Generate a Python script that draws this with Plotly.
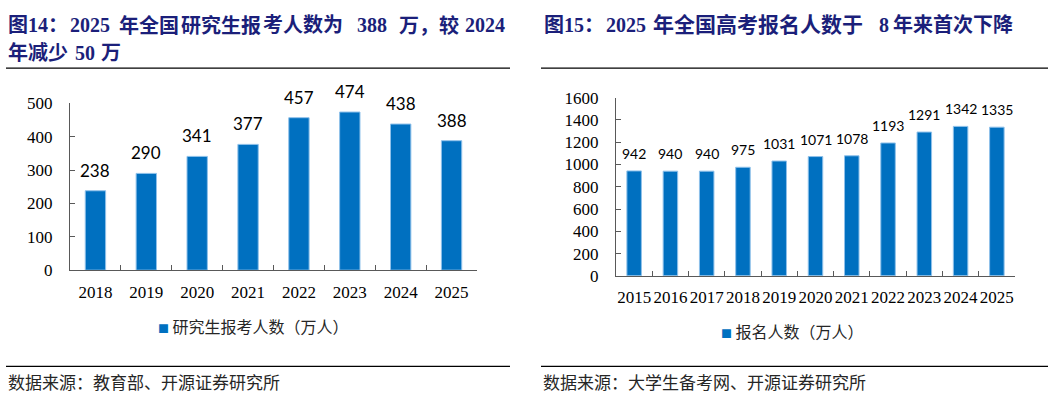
import plotly.graph_objects as go

W, H = 1057, 405

# ---- data ----
pg_years = ["2018", "2019", "2020", "2021", "2022", "2023", "2024", "2025"]
pg_values = [238, 290, 341, 377, 457, 474, 438, 388]

gk_years = ["2015", "2016", "2017", "2018", "2019", "2020", "2021", "2022", "2023", "2024", "2025"]
gk_values = [942, 940, 940, 975, 1031, 1071, 1078, 1193, 1291, 1342, 1335]

pg_ticks = [0, 100, 200, 300, 400, 500]
gk_ticks = [0, 200, 400, 600, 800, 1000, 1200, 1400, 1600]

pg_legend = "研究生报考人数（万人）"
gk_legend = "报名人数（万人）"
pg_source = "数据来源：教育部、开源证券研究所"
gk_source = "数据来源：大学生备考网、开源证券研究所"

BAR = "#0070C0"
EDGE = "#8FC1EA"
TITLE_C = "#1B1F7A"
AXIS_C = "#595959"
SERIF = "Liberation Serif, Noto Sans CJK SC"
CJK = "Noto Sans CJK SC"
LABEL_F = "Lato"


def px(x):
    return x / W


def py(y):
    return 1 - y / H


fig = go.Figure()
fig.add_trace(go.Bar(x=pg_years, y=pg_values, marker=dict(color=BAR, line=dict(color=EDGE, width=1)),
                     xaxis="x", yaxis="y", showlegend=False, hoverinfo="skip"))
fig.add_trace(go.Bar(x=gk_years, y=gk_values, marker=dict(color=BAR, line=dict(color=EDGE, width=1)),
                     xaxis="x2", yaxis="y2", showlegend=False, hoverinfo="skip"))

axis_common = dict(showline=True, linecolor=AXIS_C, linewidth=1.3, showgrid=False, zeroline=False,
                   ticks="inside", ticklen=5, tickcolor=AXIS_C, tickwidth=1,
                   tickfont=dict(family=SERIF, size=17, color="#000000"))

fig.update_layout(
    width=W, height=H, autosize=False,
    margin=dict(l=0, r=0, t=0, b=0),
    paper_bgcolor="white", plot_bgcolor="white",
    bargap=0.6,
    xaxis=dict(domain=[px(70), px(477)], anchor="y", type="category", tickson="boundaries",
               range=[-0.5, len(pg_years) - 0.5], tickangle=0,
               ticklabelstandoff=6, **axis_common),
    yaxis=dict(domain=[py(274), py(99)], anchor="x", range=[0, 500], tickvals=pg_ticks,
               ticklabelstandoff=13, **axis_common),
    xaxis2=dict(domain=[px(616), px(1015)], anchor="y2", type="category", tickson="boundaries",
                range=[-0.5, len(gk_years) - 0.5], tickangle=0,
                ticklabelstandoff=6, **axis_common),
    yaxis2=dict(domain=[py(280), py(93)], anchor="x2", range=[0, 1600], tickvals=gk_ticks,
                ticklabelstandoff=13, **axis_common),
)

ann = []
# data labels (x as category index on the category axes)
for i, yv in enumerate(pg_values):
    ann.append(dict(x=i, y=yv, xref="x", yref="y", text=str(yv), showarrow=False,
                    yanchor="bottom", yshift=8, font=dict(family=LABEL_F, size=17, color="#000000")))
for i, yv in enumerate(gk_values):
    ann.append(dict(x=i, y=yv, xref="x2", yref="y2", text=str(yv), showarrow=False,
                    yanchor="bottom", yshift=7, font=dict(family=LABEL_F, size=14, color="#000000")))

# titles (segments placed as in the justified reference)
segs = [
    ("图14：", 6, 17, 20), ("2025", 68, 17, 20), ("年全国", 117, 17, 20), ("研究生报", 179, 17, 20),
    ("考人数为", 261, 17, 20), ("388", 355, 17, 20), ("万，较", 397, 17, 20), ("2024", 463, 17, 20),
    ("年减少", 6, 46, 20), ("50", 73, 46, 20), ("万", 99, 46, 20),
    ("图15：", 542, 17, 20), ("2025", 604, 17, 20), ("年全国高考报名人数于", 651, 17, 21),
    ("8", 877, 17, 20), ("年来首次下降", 891, 17, 20),
]
for t, x0, y0, fs in segs:
    ann.append(dict(x=px(x0), y=py(y0), xref="paper", yref="paper", text=t, showarrow=False,
                    xanchor="left", yanchor="middle",
                    font=dict(family=SERIF, size=fs, color=TITLE_C, weight="bold")))

# legends
for t, x0, y0 in [(pg_legend, 156, 333), (gk_legend, 719, 338)]:
    ann.append(dict(x=px(x0), y=py(y0), xref="paper", yref="paper", showarrow=False,
                    xanchor="left", yanchor="middle",
                    text=f"<span style='color:{BAR};font-size:11px'>■</span> {t}",
                    font=dict(family=CJK, size=16, color="#262626")))

# sources
for t, x0 in [(pg_source, 6), (gk_source, 541)]:
    ann.append(dict(x=px(x0), y=py(391), xref="paper", yref="paper", text=t, showarrow=False,
                    xanchor="left", yanchor="middle", font=dict(family=CJK, size=17, color="#262626")))

fig.update_layout(annotations=ann)

shapes = []
for (a, b) in [(6, 510), (541, 1048)]:
    for yy in (62, 375):
        shapes.append(dict(type="line", xref="paper", yref="paper", x0=px(a), x1=px(b), y0=py(yy), y1=py(yy),
                           line=dict(color="#000000", width=1.2)))
fig.update_layout(shapes=shapes)

fig.write_html("out.html")
